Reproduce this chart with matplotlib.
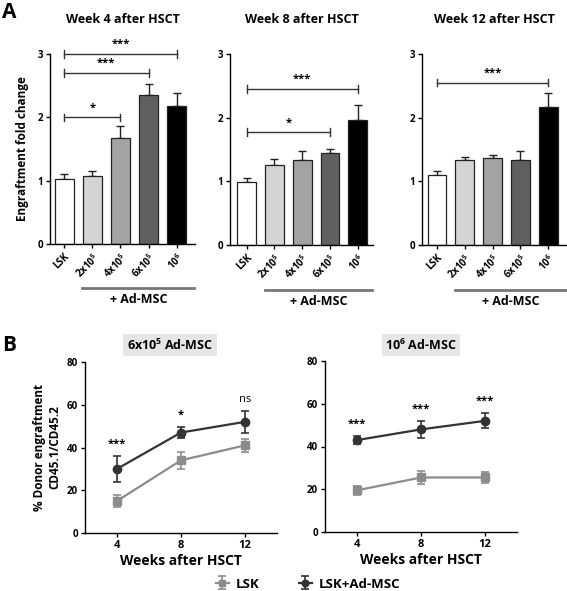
import matplotlib

matplotlib.use("Agg")
import matplotlib.pyplot as plt  # noqa: E402
import numpy as np  # noqa: E402

plt.rcParams["font.family"] = ["Open Sans", "DejaVu Sans"]
plt.rcParams["font.weight"] = "bold"
plt.rcParams["axes.labelweight"] = "bold"
plt.rcParams["mathtext.default"] = "regular"

# ---- panel A data ----
groups = ["LSK", "2x10$^5$", "4x10$^5$", "6x10$^5$", "10$^6$"]
bar_colors = ["#ffffff", "#d4d4d4", "#a3a3a3", "#606060", "#000000"]
weeks_a = ["Week 4 after HSCT", "Week 8 after HSCT", "Week 12 after HSCT"]
fold_w4 = [1.03, 1.08, 1.68, 2.35, 2.18]
err_w4 = [0.07, 0.08, 0.18, 0.17, 0.20]
fold_w8 = [0.99, 1.25, 1.34, 1.44, 1.96]
err_w8 = [0.06, 0.10, 0.13, 0.07, 0.24]
fold_w12 = [1.10, 1.33, 1.36, 1.33, 2.16]
err_w12 = [0.06, 0.06, 0.05, 0.15, 0.23]
# (from index, to index, height, label)
sig_w4 = [(0, 2, 2.0, "*"), (0, 3, 2.7, "***"), (0, 4, 3.0, "***")]
sig_w8 = [(0, 3, 1.77, "*"), (0, 4, 2.45, "***")]
sig_w12 = [(0, 4, 2.55, "***")]

# ---- panel B data ----
weeks_b = [4, 8, 12]
lsk_6 = [15, 34, 41]
lsk_6_err = [3, 4, 3]
msc_6 = [30, 47, 52]
msc_6_err = [6, 2.5, 5]
stars_6 = ["***", "*", "ns"]
lsk_10 = [19.5, 25.5, 25.5]
lsk_10_err = [2, 3, 2.5]
msc_10 = [43, 48, 52]
msc_10_err = [2, 4, 3.5]
stars_10 = ["***", "***", "***"]

W, H = 567, 591
fig = plt.figure(figsize=(W / 100, H / 100), dpi=100)


def box(left, top, right, bottom):
    return [left / W, 1 - bottom / H, (right - left) / W, (bottom - top) / H]


def style(ax):
    for s in ("top", "right"):
        ax.spines[s].set_visible(False)
    for s in ("left", "bottom"):
        ax.spines[s].set_linewidth(1.0)
    ax.tick_params(width=1.0, length=3, labelsize=7, pad=2)


a_boxes = [box(50, 54, 195, 244), box(230, 54, 373, 245), box(422, 54, 567, 245)]
a_xlims = [(-0.5, 4.65), (-0.6, 4.55), (-0.54, 4.68)]
a_data = [(fold_w4, err_w4, sig_w4), (fold_w8, err_w8, sig_w8), (fold_w12, err_w12, sig_w12)]

for i, (rect, xl, (vals, errs, sigs)) in enumerate(zip(a_boxes, a_xlims, a_data)):
    ax = fig.add_axes(rect)
    x = np.arange(len(groups))
    ax.bar(x, vals, width=0.68, color=bar_colors, edgecolor="#222222", linewidth=0.9, zorder=2)
    ax.errorbar(x, vals, yerr=[np.zeros(len(errs)), errs], fmt="none", ecolor="#222222",
                elinewidth=1.0, capsize=3, capthick=1.0, zorder=1)
    ax.set_ylim(0, 3)
    ax.set_xlim(*xl)
    ax.set_yticks([0, 1, 2, 3])
    ax.set_xticks(x)
    ax.set_xticklabels(groups, rotation=45, ha="right", rotation_mode="anchor", fontsize=7.5)
    style(ax)
    ax.set_title(weeks_a[i], fontsize=9, fontweight="bold", pad=22)
    if i == 0:
        ax.set_ylabel("Engraftment fold change", fontsize=8.5, labelpad=6)
    for a, b, h, lab in sigs:
        ax.plot([a, b], [h, h], color="#333333", lw=1.0, clip_on=False)
        for e in (a, b):
            ax.plot([e, e], [h - 0.06, h + 0.06], color="#333333", lw=1.0, clip_on=False)
        ax.text((a + b) / 2, h + 0.06, lab, ha="center", va="bottom", fontsize=8, clip_on=False)
    # + Ad-MSC underline
    ax.plot([0.65, xl[1] - 0.05], [-0.7, -0.7], color="#777777", lw=2, clip_on=False,
            transform=ax.transData)
    ax.text((0.65 + xl[1]) / 2, -0.78, "+ Ad-MSC", ha="center", va="top", fontsize=9,
            clip_on=False)

fig.text(2 / W, 1 - 2 / H, "A", fontsize=15, fontweight="bold", va="top", ha="left")
fig.text(2 / W, 1 - 335 / H, "B", fontsize=15, fontweight="bold", va="top", ha="left")

b_boxes = [box(85, 362, 277, 533), box(325, 361, 517, 532)]
b_titles = ["6x10$^5$ Ad-MSC", "10$^6$ Ad-MSC"]
b_title_x = [170, 421]
b_data = [(lsk_6, lsk_6_err, msc_6, msc_6_err, stars_6),
          (lsk_10, lsk_10_err, msc_10, msc_10_err, stars_10)]

for i, (rect, title, (l, le, m, me, st)) in enumerate(zip(b_boxes, b_titles, b_data)):
    ax = fig.add_axes(rect)
    ax.errorbar(weeks_b, l, yerr=le, color="#8c8c8c", marker="s", ms=6, lw=1.6,
                elinewidth=1.2, capsize=3, capthick=1.2, label="LSK")
    ax.errorbar(weeks_b, m, yerr=me, color="#333333", marker="o", ms=6, lw=1.6,
                elinewidth=1.2, capsize=3, capthick=1.2, label="LSK+Ad-MSC")
    ax.set_xlim(2, 14)
    ax.set_ylim(0, 80)
    ax.set_xticks(weeks_b)
    ax.set_yticks([0, 20, 40, 60, 80])
    style(ax)
    ax.tick_params(axis="x", labelsize=8)
    ax.set_xlabel("Weeks after HSCT", fontsize=10, labelpad=2)
    fig.text(b_title_x[i] / W, 1 - 345 / H, title, fontsize=9, fontweight="bold",
             ha="center", va="center",
             bbox=dict(facecolor="#e6e6e6", edgecolor="none", pad=2.5))
    for xx, top, lab in zip(weeks_b, np.array(m) + np.array(me), st):
        ax.text(xx, top + 3, lab, ha="center", va="bottom", fontsize=8,
                fontweight="normal" if lab == "ns" else "bold")
    if i == 0:
        ax.set_ylabel("% Donor engraftment\nCD45.1/CD45.2", fontsize=8.5, labelpad=4)
        handles, labels = ax.get_legend_handles_labels()

fig.legend(handles, labels, loc="center", bbox_to_anchor=(308 / W, 1 - 584 / H), ncol=2,
           frameon=False, fontsize=9.5, handlelength=1.0, columnspacing=3.0,
           handletextpad=0.5, borderpad=0, markerscale=0.8)

fig.savefig("out.png", dpi=100)
